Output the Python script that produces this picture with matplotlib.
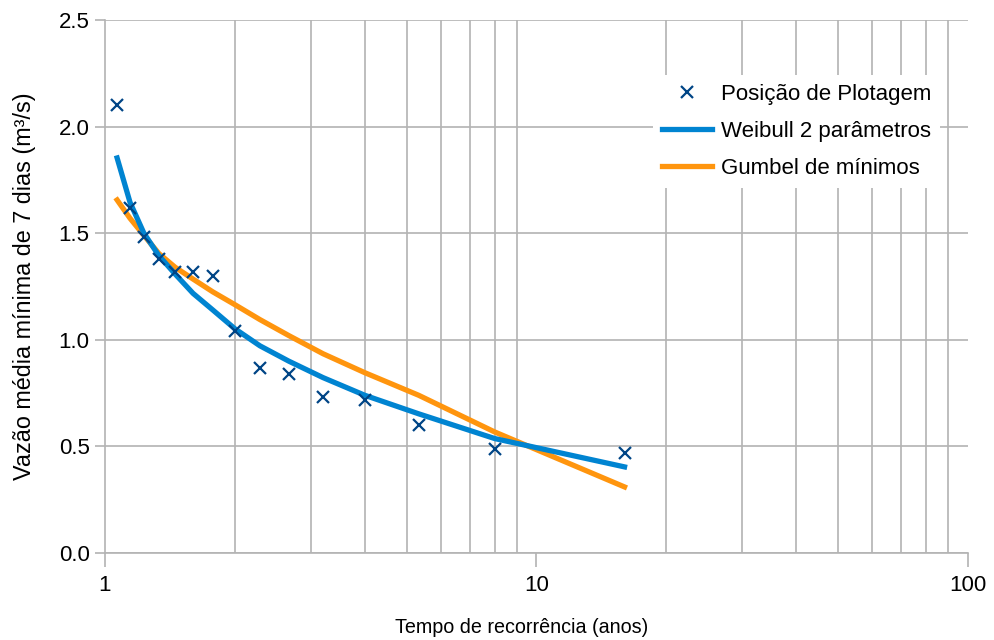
import numpy as np
from matplotlib import pyplot as plt
from matplotlib.ticker import FixedLocator, NullFormatter

# tempo de recorrência (anos) e vazões observadas
tempo_retorno = [1.067, 1.143, 1.231, 1.333, 1.455, 1.6, 1.778, 2.0,
                 2.286, 2.667, 3.2, 4.0, 5.333, 8.0, 16.0]
vazao_obs = [2.10, 1.62, 1.48, 1.38, 1.32, 1.32, 1.30, 1.04,
             0.87, 0.84, 0.73, 0.72, 0.60, 0.49, 0.47]

# curvas ajustadas
vazao_weibull = [1.853, 1.645, 1.50, 1.395, 1.308, 1.218, 1.14, 1.052,
                 0.972, 0.90, 0.823, 0.74, 0.653, 0.537, 0.404]
vazao_gumbel = [1.656, 1.57, 1.49, 1.405, 1.34, 1.285, 1.225, 1.165,
                1.095, 1.02, 0.935, 0.846, 0.74, 0.568, 0.31]

grid_color = '#b3b3b3'

plt.rcParams['font.family'] = ['Liberation Sans', 'DejaVu Sans']

fig = plt.figure(figsize=(9.94, 6.4), dpi=100)
ax = fig.add_axes([0.1056, 0.1359, 0.8682, 0.8328])

ax.plot(tempo_retorno, vazao_obs, linestyle='none', marker='x', markersize=9,
        markeredgewidth=1.6, color='#004586', label='Posição de Plotagem', zorder=4)
ax.plot(tempo_retorno, vazao_weibull, color='#0084d1', linewidth=3.8,
        label='Weibull 2 parâmetros', zorder=3)
ax.plot(tempo_retorno, vazao_gumbel, color='#ff950e', linewidth=3.8,
        label='Gumbel de mínimos', zorder=2)

ax.set_xscale('log')
ax.set_xlim(1, 100)
ax.set_ylim(0, 2.5)

ax.xaxis.set_major_locator(FixedLocator([1, 10, 100]))
ax.set_xticklabels(['1', '10', '100'])
minor_x = [2, 3, 4, 5, 6, 7, 8, 9, 20, 30, 40, 50, 60, 70, 80, 90, 100]
ax.xaxis.set_minor_locator(FixedLocator(minor_x))
ax.xaxis.set_minor_formatter(NullFormatter())
ax.set_yticks([0.0, 0.5, 1.0, 1.5, 2.0, 2.5])
ax.set_yticklabels(['0.0', '0.5', '1.0', '1.5', '2.0', '2.5'])

ax.grid(True, axis='y', which='major', color=grid_color, linewidth=1.2)
ax.grid(True, axis='x', which='minor', color=grid_color, linewidth=1.2)
ax.grid(False, axis='x', which='major')
ax.set_axisbelow(True)

for side in ['top', 'right']:
    ax.spines[side].set_visible(False)
for side in ['left', 'bottom']:
    ax.spines[side].set_color(grid_color)
    ax.spines[side].set_linewidth(1.2)

ax.tick_params(axis='x', which='major', length=10, width=1.2, color=grid_color,
               labelsize=16, pad=6)
ax.tick_params(axis='x', which='minor', length=0)
ax.tick_params(axis='y', length=7, width=1.2, color=grid_color, labelsize=16, pad=4)

ax.set_xlabel('Tempo de recorrência (anos)', fontsize=14.2)
ax.xaxis.set_label_coords(0.483, -0.122)
ax.set_ylabel('Vazão média mínima de 7 dias (m³/s)', fontsize=16.8)
ax.yaxis.set_label_coords(-0.08, 0.5)

leg = ax.legend(loc='upper left', bbox_to_anchor=(0.635, 0.897), frameon=True,
                fontsize=16, handlelength=2.25, borderpad=0.4, labelspacing=0.72,
                handletextpad=0.4, borderaxespad=0)
leg.get_frame().set_facecolor('white')
leg.get_frame().set_edgecolor('none')
leg.get_frame().set_alpha(1)
leg.get_frame().set_boxstyle('square', pad=0)

fig.savefig('out.png', dpi=100)
